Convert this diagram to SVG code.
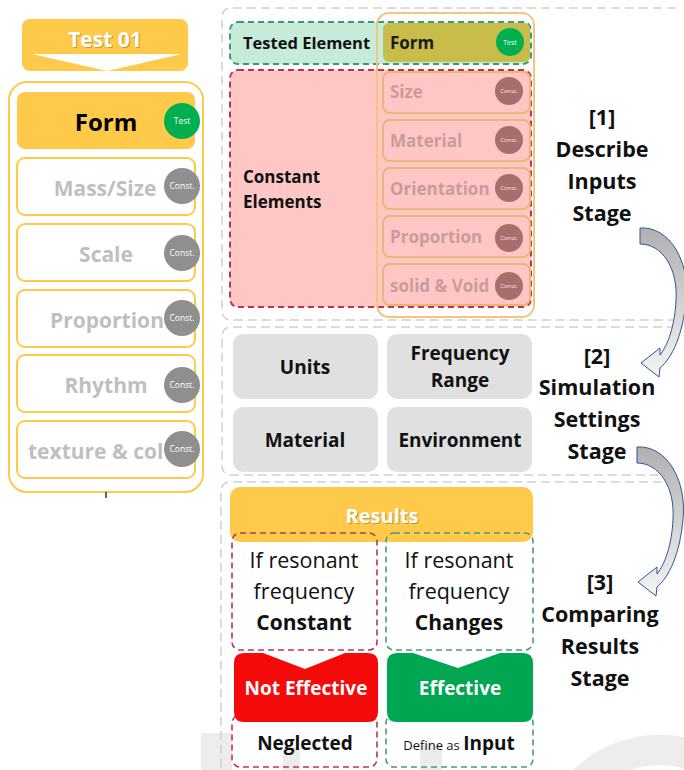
<svg xmlns="http://www.w3.org/2000/svg" width="684" height="770" viewBox="0 0 684 770">
<defs>
<style>
text{font-family:"Open Sans","Liberation Sans",sans-serif;}
.b{font-weight:bold;}
.c{text-anchor:middle;}
.gray{fill:#BFBFBF;font-weight:bold;font-size:21px;text-anchor:middle;}
.lbox{fill:#FFFFFF;stroke:#FFC94A;stroke-width:2;}
.gc{fill:#8F8F8F;}
.ct{fill:#FFFFFF;font-size:8.5px;text-anchor:middle;}
.panel{fill:none;stroke:#CFCFCF;stroke-width:1.5;stroke-dasharray:9 5;}
.sub{fill:none;stroke:#EDB47A;stroke-width:2;}
.subt{fill:#C99C9C;font-weight:bold;font-size:17px;}
.pc{fill:#A86E6E;}
.pct{fill:#F3E2E2;font-size:6px;text-anchor:middle;}
.gbox{fill:#E0E0E0;}
.gt{fill:#111;font-weight:bold;font-size:19px;text-anchor:middle;}
.stage{fill:#111;font-weight:bold;font-size:21.5px;text-anchor:middle;}
.rd{fill:none;stroke:#C0344B;stroke-width:1.6;stroke-dasharray:6 4;}
.gd{fill:none;stroke:#4A9A7A;stroke-width:1.6;stroke-dasharray:6 4;}
.arrow{fill:url(#ag);stroke:#2F5597;stroke-width:1;}
</style>
<linearGradient id="ag" x1="0" y1="0" x2="0" y2="1">
<stop offset="0" stop-color="#B0B0B0"/>
<stop offset="1" stop-color="#F4F4F4"/>
</linearGradient>
<path id="carrow" d="M640,228 C670,226 690,262 686,300 C683,335 672,358 660,368 L659,377 L641,363 L660,348 L660,355 C668,345 675,325 676,300 C678,268 662,244 640,244 Z"/>
</defs>
<rect width="684" height="770" fill="#FFFFFF"/>

<!-- faint watermark -->
<g id="watermark" fill="#808080" opacity="0.14">
<rect x="201" y="733" width="31" height="37"/>
<rect x="283" y="748" width="17" height="22"/>
<rect x="420" y="745" width="22" height="25"/>
<path d="M573,770 A125,125 0 0 1 684,737 V768 A95,95 0 0 0 630,770 Z"/>
</g>

<!-- Left panel -->
<g id="test01">
<rect x="22" y="19" width="166" height="52" rx="8" fill="#FFC94A"/>
<polygon points="32,54 182,54 107,71" fill="#FFFFFF"/>
<text x="106" y="48" class="b c" font-size="21" fill="#8A6D20" opacity="0.5">Test 01</text>
<text x="105" y="47" class="b c" font-size="21" fill="#FFFFFF">Test 01</text>
</g>
<g id="left-frame">
<rect x="9" y="82" width="194" height="410" rx="18" fill="#FFFFFF" stroke="#FFC94A" stroke-width="2"/>
<line x1="106" y1="492" x2="106" y2="498" stroke="#333" stroke-width="1.5"/>
</g>
<g id="l-form">
<rect x="17" y="92" width="178" height="57" rx="8" fill="#FFC94A"/>
<text x="106" y="131" class="b c" font-size="24" fill="#000">Form</text>
<circle cx="182" cy="121" r="18" fill="#00B050"/>
<text x="182" y="124" class="ct">Test</text>
</g>
<g id="l-mass">
<rect x="17" y="158" width="178" height="57" rx="8" class="lbox"/>
<text x="105" y="196" class="gray">Mass/Size</text>
<circle cx="182" cy="186" r="18" class="gc"/>
<text x="182" y="189" class="ct">Const.</text>
</g>
<g id="l-scale">
<rect x="17" y="224" width="178" height="57" rx="8" class="lbox"/>
<text x="106" y="262" class="gray">Scale</text>
<circle cx="182" cy="253" r="18" class="gc"/>
<text x="182" y="256" class="ct">Const.</text>
</g>
<g id="l-proportion">
<rect x="17" y="290" width="178" height="57" rx="8" class="lbox"/>
<text x="107" y="328" class="gray">Proportion</text>
<circle cx="182" cy="318" r="18" class="gc"/>
<text x="182" y="321" class="ct">Const.</text>
</g>
<g id="l-rhythm">
<rect x="17" y="355" width="178" height="57" rx="8" class="lbox"/>
<text x="106" y="393" class="gray">Rhythm</text>
<circle cx="182" cy="385" r="18" class="gc"/>
<text x="182" y="388" class="ct">Const.</text>
</g>
<g id="l-texture">
<rect x="17" y="421" width="178" height="57" rx="8" class="lbox"/>
<text x="28" y="459" class="gray" style="text-anchor:start">texture &amp; col</text>
<circle cx="182" cy="449" r="18" class="gc"/>
<text x="182" y="452" class="ct">Const.</text>
</g>

<!-- Stage panels -->
<g id="panels">
<path class="panel" d="M676,8 H232 Q222,8 222,18 V310 Q222,320 232,320 H676"/>
<path class="panel" d="M676,327 H232 Q222,327 222,337 V465 Q222,475 232,475 H676"/>
<path class="panel" d="M676,482 H231 Q221,482 221,492 V775"/>
</g>

<!-- Stage 1 -->
<g id="tested-element">
<rect x="230" y="22" width="301" height="42" rx="8" fill="#C6EBDA" stroke="#3A9A70" stroke-width="2" stroke-dasharray="6 4"/>
<text x="243" y="49" class="b" font-size="16.5" fill="#111">Tested Element</text>
</g>
<g id="constant-elements">
<rect x="230" y="70" width="301" height="237" rx="8" fill="#FFC6C6" stroke="#C0344B" stroke-width="2" stroke-dasharray="6 4"/>
<text x="243" y="183" class="b" font-size="17" fill="#111">Constant</text>
<text x="243" y="208" class="b" font-size="17" fill="#111">Elements</text>
</g>
<g id="r-frame">
<rect x="377" y="13" width="157" height="304" rx="12" fill="none" stroke="#F5C580" stroke-width="2"/>
</g>
<g id="r-form">
<rect x="383" y="23" width="147" height="39" rx="6" fill="#C8BD4B"/>
<text x="390" y="49" class="b" font-size="17" fill="#1A1A1A">Form</text>
<circle cx="510" cy="42" r="14" fill="#00B050"/>
<text x="510" y="44.5" fill="#E8FFF0" font-size="7" text-anchor="middle">Test</text>
</g>
<g id="r-size">
<rect x="383" y="72" width="147" height="41" rx="7" class="sub"/>
<text x="390" y="98" class="subt">Size</text>
<circle cx="509" cy="91" r="14" class="pc"/>
<text x="509" y="93" class="pct">Const.</text>
</g>
<g id="r-material">
<rect x="383" y="120" width="147" height="41" rx="7" class="sub"/>
<text x="390" y="147" class="subt">Material</text>
<circle cx="509" cy="140" r="14" class="pc"/>
<text x="509" y="142" class="pct">Const.</text>
</g>
<g id="r-orientation">
<rect x="383" y="168" width="147" height="41" rx="7" class="sub"/>
<text x="390" y="195" class="subt">Orientation</text>
<circle cx="509" cy="188" r="14" class="pc"/>
<text x="509" y="190" class="pct">Const.</text>
</g>
<g id="r-proportion">
<rect x="383" y="216" width="147" height="41" rx="7" class="sub"/>
<text x="390" y="243" class="subt">Proportion</text>
<circle cx="509" cy="238" r="14" class="pc"/>
<text x="509" y="240" class="pct">Const.</text>
</g>
<g id="r-solid">
<rect x="383" y="264" width="147" height="41" rx="7" class="sub"/>
<text x="390" y="292" class="subt">solid &amp; Void</text>
<circle cx="509" cy="286" r="14" class="pc"/>
<text x="509" y="288" class="pct">Const.</text>
</g>
<g id="stage1-label">
<text x="602" y="125" class="stage">[1]</text>
<text x="602" y="157" class="stage">Describe</text>
<text x="602" y="189" class="stage">Inputs</text>
<text x="602" y="221" class="stage">Stage</text>
</g>

<!-- Stage 2 -->
<g id="units">
<rect x="233" y="334" width="145" height="65" rx="10" class="gbox"/>
<text x="305" y="374" class="gt">Units</text>
</g>
<g id="frequency-range">
<rect x="387" y="334" width="145" height="65" rx="10" class="gbox"/>
<text x="460" y="360" class="gt">Frequency</text>
<text x="460" y="387" class="gt">Range</text>
</g>
<g id="material">
<rect x="233" y="407" width="145" height="65" rx="10" class="gbox"/>
<text x="305" y="447" class="gt">Material</text>
</g>
<g id="environment">
<rect x="387" y="407" width="145" height="65" rx="10" class="gbox"/>
<text x="460" y="447" class="gt">Environment</text>
</g>
<g id="stage2-label">
<text x="597" y="364" class="stage">[2]</text>
<text x="597" y="395" class="stage">Simulation</text>
<text x="597" y="427" class="stage">Settings</text>
<text x="597" y="459" class="stage">Stage</text>
</g>

<!-- Stage 3 -->
<g id="results">
<rect x="230" y="487" width="303" height="55" rx="10" fill="#FFC94A"/>
<text x="383" y="524" class="b c" font-size="20" fill="#8A6D20" opacity="0.5">Results</text>
<text x="382" y="523" class="b c" font-size="20" fill="#FFFFFF">Results</text>
</g>
<g id="if-constant">
<rect x="232" y="533" width="145" height="117" rx="8" class="rd"/>
<text x="304" y="568" class="c" font-size="21.5" fill="#111">If resonant</text>
<text x="304" y="599" class="c" font-size="21.5" fill="#111">frequency</text>
<text x="304" y="630" class="b c" font-size="21" fill="#111">Constant</text>
</g>
<g id="if-changes">
<rect x="386" y="533" width="147" height="117" rx="8" class="gd"/>
<text x="459" y="568" class="c" font-size="21.5" fill="#111">If resonant</text>
<text x="459" y="599" class="c" font-size="21.5" fill="#111">frequency</text>
<text x="459" y="630" class="b c" font-size="21" fill="#111">Changes</text>
</g>
<g id="neglected">
<rect x="232" y="715" width="145" height="52" rx="8" class="rd"/>
<text x="305" y="750" class="b c" font-size="19" fill="#111">Neglected</text>
</g>
<g id="define-input">
<rect x="386" y="715" width="147" height="52" rx="8" class="gd"/>
<text x="459" y="750" class="c" fill="#111"><tspan font-size="13">Define as </tspan><tspan font-size="19" font-weight="bold">Input</tspan></text>
</g>
<g id="not-effective">
<path d="M244,653 H263 L305,669 L345,653 H368 Q378,653 378,663 V712 Q378,722 368,722 H244 Q234,722 234,712 V663 Q234,653 244,653 Z" fill="#F50A0A"/>
<text x="306" y="695" class="b c" font-size="19" fill="#FFFFFF">Not Effective</text>
</g>
<g id="effective">
<path d="M397,653 H413 L458,668 L500,653 H523 Q533,653 533,663 V712 Q533,722 523,722 H397 Q387,722 387,712 V663 Q387,653 397,653 Z" fill="#00A651"/>
<text x="460" y="695" class="b c" font-size="19" fill="#FFFFFF">Effective</text>
</g>
<g id="stage3-label">
<text x="600" y="590" class="stage">[3]</text>
<text x="600" y="622" class="stage">Comparing</text>
<text x="600" y="654" class="stage">Results</text>
<text x="600" y="686" class="stage">Stage</text>
</g>

<!-- Connectors -->
<g id="connectors">
<use href="#carrow" class="arrow"/>
<use href="#carrow" class="arrow" transform="translate(-3,219)"/>
</g>
</svg>
